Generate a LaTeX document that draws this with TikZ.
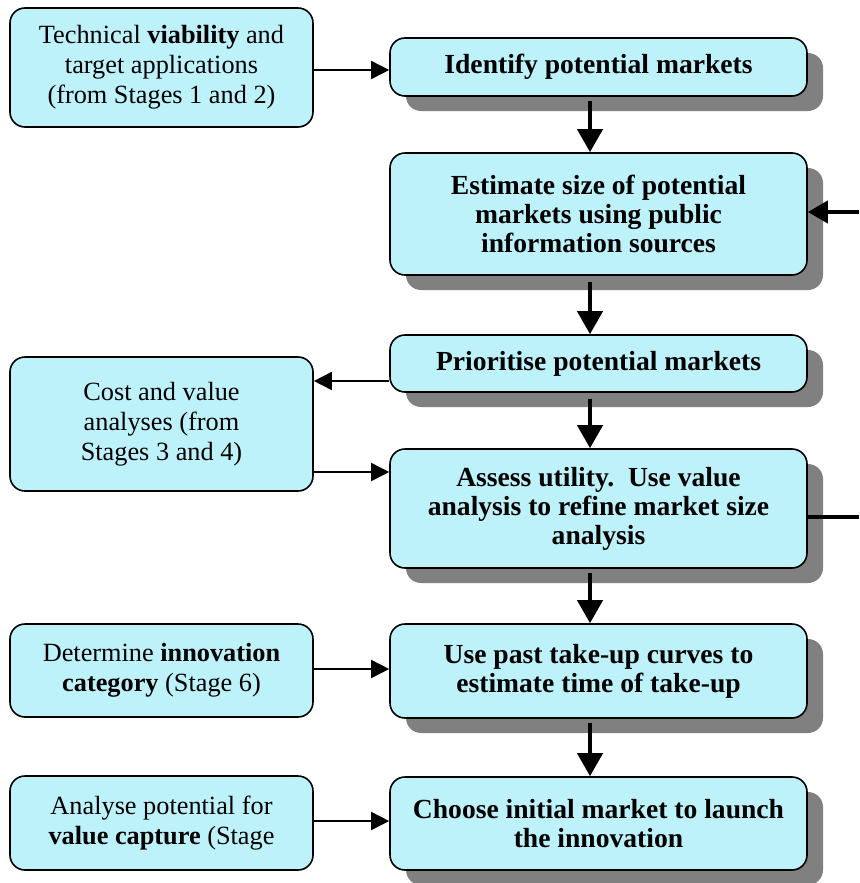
\documentclass[tikz,border=0pt]{standalone}
\usepackage{fontspec}
\setmainfont{Liberation Serif}
\usetikzlibrary{arrows.meta,shadows}

\definecolor{boxfill}{RGB}{190,242,250}
\definecolor{shadowgray}{RGB}{128,128,128}

\tikzset{
  basebox/.style={draw=black, line width=1.6pt, fill=boxfill, rounded corners=15pt,
    align=center, inner sep=0pt, text=black},
  inputbox/.style={basebox, minimum width=303pt,
    font=\fontsize{26.3}{30}\selectfont},
  stepbox/.style={basebox, minimum width=417pt,
    font=\fontsize{27.6}{29}\selectfont\bfseries,
    drop shadow={shadow xshift=16pt, shadow yshift=-15pt, fill=shadowgray, opacity=1}},
  flow/.style={line width=4pt, -{Triangle[length=23pt,width=25pt]}},
  feed/.style={line width=1.6pt, -{Triangle[length=18pt,width=18pt]}},
  loopin/.style={line width=3.6pt, -{Triangle[length=20pt,width=22pt]}},
  loopout/.style={line width=3.6pt},
}

\begin{document}
\begin{tikzpicture}[x=1pt, y=-1pt]
  \useasboundingbox (0,0) rectangle (859,883);

  % main sequence of steps
  \node[stepbox, minimum height=58pt]  (R1) at (598.5,67)    {Identify potential markets};
  \node[stepbox, minimum height=122pt] (R2) at (598.5,214)   {Estimate size of potential\\markets using public\\information sources};
  \node[stepbox, minimum height=57pt]  (R3) at (598.5,363.5) {Prioritise potential markets};
  \node[stepbox, minimum height=119pt] (R4) at (598.5,508.5) {Assess utility.\ \ Use value\\analysis to refine market size\\analysis};
  \node[stepbox, minimum height=94pt]  (R5) at (598.5,671)   {Use past take-up curves to\\estimate time of take-up};
  \node[stepbox, minimum height=93pt]  (R6) at (598.5,823.5) {Choose initial market to launch\\the innovation};

  % inputs from other stages
  \node[inputbox, minimum height=119pt] (L1) at (161.5,67.5) {Technical \textbf{viability} and\\target applications\\(from Stages 1 and 2)};
  \node[inputbox, minimum height=134pt] (L2) at (161.5,424)  {Cost and value\\analyses (from\\Stages 3 and 4)};
  \node[inputbox, minimum height=93pt]  (L3) at (161.5,670.5) {Determine \textbf{innovation}\\\textbf{category} (Stage 6)};
  \node[inputbox, minimum height=94pt]  (L4) at (161.5,823)  {Analyse potential for\\\textbf{value capture} (Stage};

  % reference points for connector positions
  \coordinate (ax) at (590,0);
  \coordinate (h1) at (0,70);
  \coordinate (h2) at (0,381);
  \coordinate (h3) at (0,472);
  \coordinate (h4) at (0,669);
  \coordinate (h5) at (0,821);
  \coordinate (loopA) at (859,517);
  \coordinate (loopB) at (859,212);

  % downward flow
  \draw[flow] ([yshift=-4pt]R1.south -| ax) -- (R2.north -| ax);
  \draw[flow] ([yshift=-6pt]R2.south -| ax) -- (R3.north -| ax);
  \draw[flow] ([yshift=-6pt]R3.south -| ax) -- (R4.north -| ax);
  \draw[flow] ([yshift=-4pt]R4.south -| ax) -- (R5.north -| ax);
  \draw[flow] ([yshift=-4pt]R5.south -| ax) -- (R6.north -| ax);

  % side inputs and outputs
  \draw[feed] (L1.east |- h1) -- (R1.west |- h1);
  \draw[feed] (R3.west |- h2) -- (L2.east |- h2);
  \draw[feed] (L2.east |- h3) -- (R4.west |- h3);
  \draw[feed] (L3.east |- h4) -- (R5.west |- h4);
  \draw[feed] (L4.east |- h5) -- (R6.west |- h5);

  % feedback loop on the right
  \draw[loopout] (R4.east |- loopA) -- (loopA);
  \draw[loopin] (loopB) -- (R2.east |- loopB);
\end{tikzpicture}
\end{document}
